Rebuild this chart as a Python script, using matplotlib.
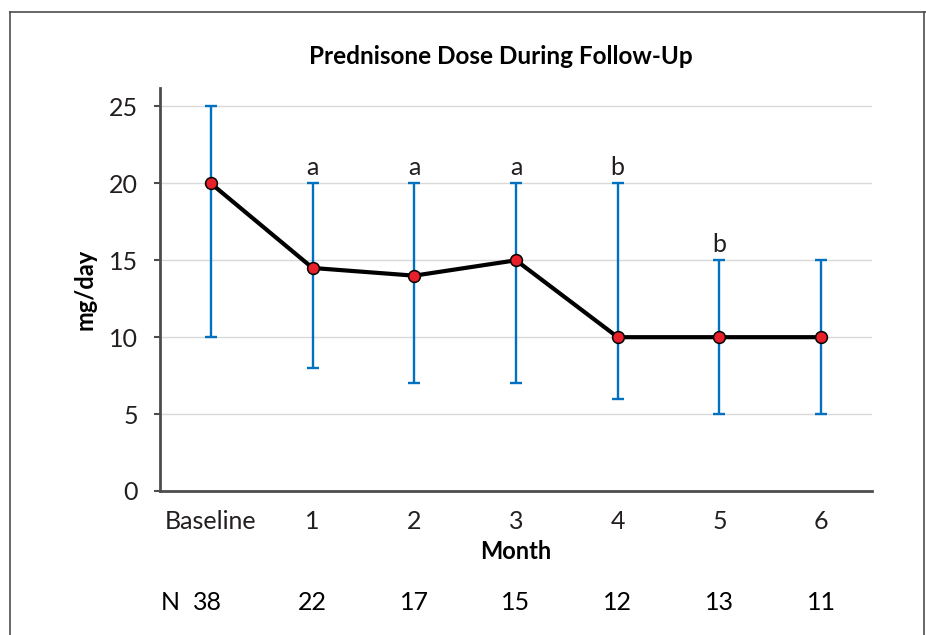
import matplotlib.pyplot as plt
from matplotlib.lines import Line2D

plt.rcParams['font.family'] = ['Lato', 'DejaVu Sans']

months = ["Baseline", "1", "2", "3", "4", "5", "6"]
dose = [20, 14.5, 14, 15, 10, 10, 10]
upper = [25, 20, 20, 20, 20, 15, 15]
lower = [10, 8, 7, 7, 6, 5, 5]
letters = ["", "a", "a", "a", "b", "b", ""]
n_patients = [38, 22, 17, 15, 12, 13, 11]

fig = plt.figure(figsize=(9.26, 6.35), dpi=100)
ax = fig.add_axes([160 / 926, 1 - 491 / 635, 712 / 926, 403 / 635])

x = list(range(len(months)))
err_lo = [d - l for d, l in zip(dose, lower)]
err_hi = [u - d for u, d in zip(upper, dose)]

ax.errorbar(x, dose, yerr=[err_lo, err_hi], fmt='none', ecolor='#0070C0',
            elinewidth=1.7, capsize=4.5, capthick=1.7, zorder=2)
ax.plot(x, dose, color='black', lw=3, marker='o', ms=8.5,
        mfc='#E8202A', mec='black', mew=1.1, zorder=3)

for xi, u, t in zip(x, upper, letters):
    if t:
        ax.text(xi, u + 0.3, t, ha='center', va='bottom', fontsize=18, color='#231F20')

ax.set_xlim(-0.5, 6.5)
ax.set_ylim(0, 26.2)
ax.set_yticks([0, 5, 10, 15, 20, 25])
ax.set_xticks(x)
ax.set_xticklabels(months)
ax.tick_params(axis='x', length=0, labelsize=18, pad=14, colors='#231F20')
ax.tick_params(axis='y', length=4, width=1.5, color='#4D4D4D', labelsize=18,
               pad=12, colors='#231F20')
ax.yaxis.grid(True, color='#D9D9D9', lw=1)
ax.set_axisbelow(True)
for s in ['top', 'right']:
    ax.spines[s].set_visible(False)
for s in ['left', 'bottom']:
    ax.spines[s].set_color('#4D4D4D')
    ax.spines[s].set_linewidth(2)

ax.set_xlabel("Month", fontsize=17, fontweight='bold', labelpad=5)
ax.set_ylabel("mg/day", fontsize=17, fontweight='bold', labelpad=9)
fig.text(501 / 926, 1 - 57 / 635, "Prednisone Dose During Follow-Up",
         ha='center', va='center', fontsize=17.5, fontweight='bold')

# N row under the axis
fig.text(170 / 926, 1 - 602 / 635, "N", ha='center', va='center', fontsize=18)
for xi, n in zip(x, n_patients):
    xd = ax.transData.transform((xi, 0))[0] / 926
    if xi == 0:
        xd = 207 / 926
    fig.text(xd, 1 - 602 / 635, str(n), ha='center', va='center', fontsize=18)

# frame lines around the figure
fig.add_artist(Line2D([10 / 926, 10 / 926], [0, 1 - 12 / 635], color='#4D4D4D', lw=1.2))
fig.add_artist(Line2D([10 / 926, 1], [1 - 12 / 635, 1 - 12 / 635], color='#4D4D4D', lw=1.2))
fig.add_artist(Line2D([924 / 926, 924 / 926], [0, 1 - 12 / 635], color='#4D4D4D', lw=1.2))

fig.savefig("out.png", dpi=100)
